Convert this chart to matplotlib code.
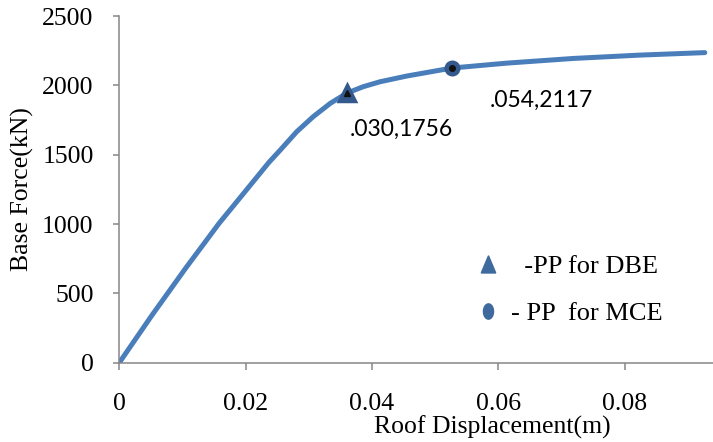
import matplotlib
matplotlib.use("Agg")
import matplotlib.pyplot as plt
from matplotlib.lines import Line2D
from matplotlib.path import Path
import numpy as np

# pushover curve
disp = [0, 0.0052, 0.0105, 0.0158, 0.0199, 0.0237, 0.0255, 0.0281, 0.0307,
        0.0334, 0.0360, 0.0386, 0.0413, 0.0455, 0.0527, 0.0613, 0.0719,
        0.0824, 0.0927]
force = [0, 344, 681, 1005, 1233, 1445, 1534, 1666, 1774,
         1870, 1943, 1990, 2026, 2067, 2125, 2160, 2194,
         2218, 2236]

# performance points
pp_dbe = (0.0360, 1948)
pp_mce = (0.0527, 2127)
pp_dbe_text = ".030,1756"
pp_mce_text = ".054,2117"
pp_dbe_label = "  -PP for DBE"
pp_mce_label = "- PP  for MCE"

xticks = [0, 0.02, 0.04, 0.06, 0.08]
xtick_labels = ["0", "0.02", "0.04", "0.06", "0.08"]
yticks = [0, 500, 1000, 1500, 2000, 2500]

line_col = "#4A7EBB"
mark_col = "#34598C"
grey = "#868686"
serif = "Liberation Serif"

fig = plt.figure(figsize=(7.13, 4.42), dpi=100)
ax = fig.add_axes([0.1673, 0.1794, 0.8327, 0.7844])

ax.plot(disp, force, color=line_col, lw=3.6, solid_capstyle="round",
        solid_joinstyle="round", zorder=2)

# markers with small black centre
ax.plot(*pp_dbe, marker="^", ms=12, mfc=mark_col, mec=mark_col, mew=2.5, zorder=3)
ax.plot(*pp_dbe, marker="^", ms=4, mfc="#111111", mec="#111111", zorder=4)
ax.plot(*pp_mce, marker="o", ms=10, mfc=mark_col, mec=mark_col, mew=1.5, zorder=3)
ax.plot(*pp_mce, marker="o", ms=4, mfc="#111111", mec="#111111", zorder=4)

ax.text(0.0365, 1635, pp_dbe_text, family="Lato", fontsize=16.5, va="baseline")
ax.text(0.0587, 1846, pp_mce_text, family="Lato", fontsize=16.5, va="baseline")

# narrow legend markers
tri = Path([(0, 0.5), (-0.42, -0.5), (0.42, -0.5), (0, 0.5)], closed=True)
t = np.linspace(0, 2 * np.pi, 40)
ell = Path(np.column_stack([0.33 * np.cos(t), 0.5 * np.sin(t)]), closed=True)
handles = [
    Line2D([], [], ls="none", marker=tri, ms=12, mfc="#3E6A9E", mec="#3E6A9E",
           mew=1.2),
    Line2D([], [], ls="none", marker=ell, ms=11, mfc="#3E6A9E", mec="#3E6A9E"),
]
ax.legend(handles, [pp_dbe_label, pp_mce_label], loc="upper left",
          bbox_to_anchor=(0.599, 0.3125), frameon=False,
          prop={"family": serif, "size": 19}, handlelength=1.0,
          handletextpad=0.35, labelspacing=0.9, borderaxespad=0, borderpad=0)

ax.set_xlim(0, 0.094)
ax.set_ylim(0, 2500)
ax.set_xticks(xticks)
ax.set_xticklabels(xtick_labels)
ax.set_yticks(yticks)

for s in ["top", "right"]:
    ax.spines[s].set_visible(False)
for s in ["left", "bottom"]:
    ax.spines[s].set_color(grey)
    ax.spines[s].set_linewidth(1.1)

ax.tick_params(axis="y", direction="out", length=4.5, width=1.1, color=grey,
               pad=14, labelsize=18.5)
ax.tick_params(axis="x", direction="out", length=5, width=1.1, color=grey,
               pad=17, labelsize=18.5)
for lab in ax.get_xticklabels() + ax.get_yticklabels():
    lab.set_family(serif)

ax.set_xlabel("Roof Displacement(m)", family=serif, fontsize=18.5)
ax.set_ylabel("Base Force(kN)", family=serif, fontsize=18.5)
ax.xaxis.set_label_coords(0.629, -0.152)
ax.yaxis.set_label_coords(-0.1437, 0.5)

fig.savefig("out.png", dpi=100)
